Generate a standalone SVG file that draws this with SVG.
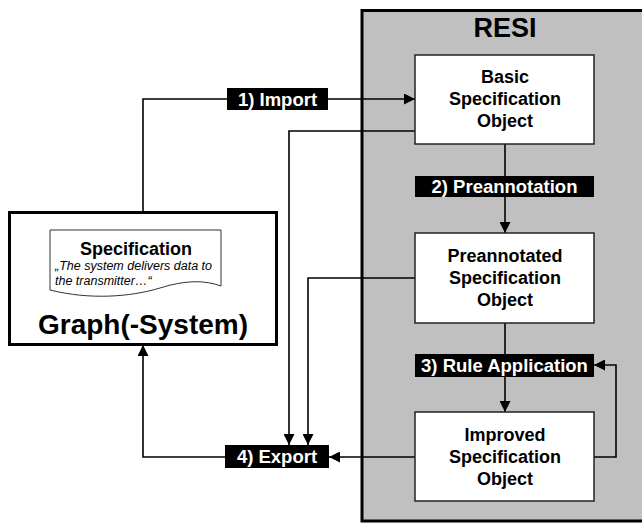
<svg xmlns="http://www.w3.org/2000/svg" width="642" height="523" viewBox="0 0 642 523">
<style>
text{font-family:"Liberation Sans",Arial,sans-serif;font-weight:bold;text-anchor:middle}
.box{fill:#fff;stroke:#222;stroke-width:1.5}
.bt{font-size:18px;fill:#000}
.lbl{fill:#000}
.lt{font-size:18.5px;fill:#fff}
.con{fill:none;stroke:#000;stroke-width:1.6}
</style>
<defs>
<marker id="ah" markerUnits="userSpaceOnUse" markerWidth="12" markerHeight="11" refX="11" refY="5.5" orient="auto">
<path d="M0,0 L11,5.5 L0,11 z" fill="#000"/>
</marker>
</defs>
<rect width="642" height="523" fill="#fff"/>
<g id="resi">
<rect x="362" y="10.5" width="300" height="510.5" fill="#c0c0c0" stroke="#000" stroke-width="3"/>
<text x="505" y="37" style="font-size:27px">RESI</text>
</g>
<g id="connectors">
<polyline class="con" points="143,212 143,99 415,99" marker-end="url(#ah)"/>
<line class="con" x1="505" y1="144" x2="505" y2="233" marker-end="url(#ah)"/>
<line class="con" x1="505" y1="323" x2="505" y2="412" marker-end="url(#ah)"/>
<polyline class="con" points="594,457 616,457 616,365 594,365" marker-end="url(#ah)"/>
<polyline class="con" points="415,131 289,131 289,445" marker-end="url(#ah)"/>
<polyline class="con" points="415,278 308,278 308,445" marker-end="url(#ah)"/>
<line class="con" x1="415" y1="457" x2="329" y2="457" marker-end="url(#ah)"/>
<polyline class="con" points="225,457 143,457 143,345" marker-end="url(#ah)"/>
</g>
<g id="graph">
<rect x="9.5" y="212.5" width="267" height="132" fill="#fff" stroke="#000" stroke-width="3"/>
<path d="M50,230 L221,230 L221,286 C205,280 185,280 160,288 C130,297 90,300 50,290 Z" fill="#fff" stroke="#333" stroke-width="1"/>
<text x="136" y="255" style="font-size:18px">Specification</text>
<text x="55" y="270" style="font-size:12.5px;font-weight:normal;font-style:italic;text-anchor:start">„The system delivers data to</text>
<text x="55" y="285" style="font-size:12.5px;font-weight:normal;font-style:italic;text-anchor:start">the transmitter…“</text>
<text x="143" y="334" style="font-size:28px">Graph(-System)</text>
</g>
<g id="basic">
<rect class="box" x="415" y="55" width="179" height="89"/>
<text class="bt" x="505" y="83">Basic</text>
<text class="bt" x="505" y="105">Specification</text>
<text class="bt" x="505" y="127">Object</text>
</g>
<g id="preannotated">
<rect class="box" x="415" y="233" width="179" height="90"/>
<text class="bt" x="505" y="262">Preannotated</text>
<text class="bt" x="505" y="284">Specification</text>
<text class="bt" x="505" y="306">Object</text>
</g>
<g id="improved">
<rect class="box" x="415" y="412" width="179" height="89"/>
<text class="bt" x="505" y="441">Improved</text>
<text class="bt" x="505" y="463">Specification</text>
<text class="bt" x="505" y="485">Object</text>
</g>
<g id="label-import">
<rect class="lbl" x="227" y="88" width="101" height="22"/>
<text class="lt" x="277.5" y="105.5">1) Import</text>
</g>
<g id="label-preannotation">
<rect class="lbl" x="415" y="176" width="179" height="21"/>
<text class="lt" x="504.5" y="193">2) Preannotation</text>
</g>
<g id="label-rule">
<rect class="lbl" x="415" y="354" width="179" height="23"/>
<text class="lt" x="504.5" y="372">3) Rule Application</text>
</g>
<g id="label-export">
<rect class="lbl" x="225" y="445" width="104" height="23"/>
<text class="lt" x="277" y="463">4) Export</text>
</g>
</svg>
